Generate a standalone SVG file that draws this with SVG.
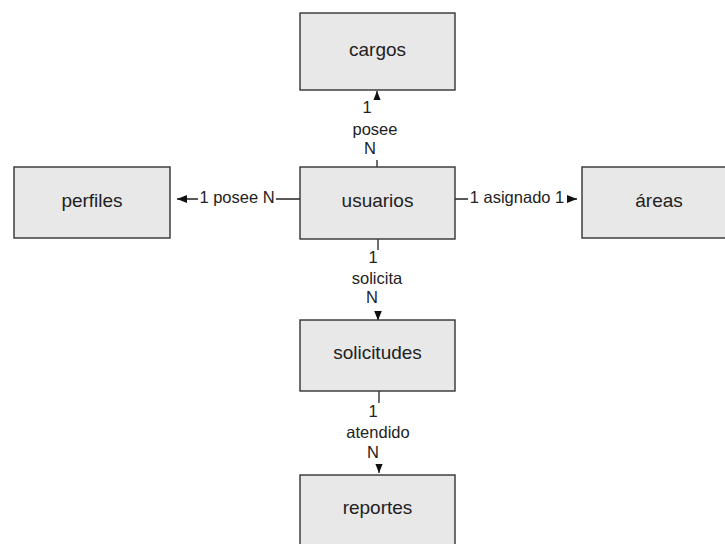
<svg xmlns="http://www.w3.org/2000/svg" width="725" height="544" viewBox="0 0 725 544">
<style>
.box{fill:#e8e8e8;stroke:#333;stroke-width:1.4}
.nt{font-family:"Liberation Sans",Arial,sans-serif;font-size:19px;fill:#222;text-anchor:middle}
.lt{font-family:"Liberation Sans",Arial,sans-serif;font-size:16.5px;fill:#222;text-anchor:middle}
.conn{fill:none;stroke:#222;stroke-width:1.3}
.bg{fill:#fff}
</style>
<defs>
<marker id="arr" markerUnits="userSpaceOnUse" markerWidth="11" markerHeight="9" refX="10" refY="4.5" orient="auto" viewBox="0 0 11 9">
<path d="M0,0.5 L10,4.5 L0,8.5 z" fill="#111"/>
</marker>
</defs>
<g id="connectors">
<path class="conn" d="M377,167 V91" marker-end="url(#arr)"/>
<path class="conn" d="M300,199 H177" marker-end="url(#arr)"/>
<path class="conn" d="M455,199 H577" marker-end="url(#arr)"/>
<path class="conn" d="M378,239 V320.5" marker-end="url(#arr)"/>
<path class="conn" d="M379,391 V473" marker-end="url(#arr)"/>
</g>
<g id="labels">
<rect class="bg" x="350" y="100" width="52" height="60"/>
<text class="lt" x="367" y="113">1</text>
<text class="lt" x="375" y="135">posee</text>
<text class="lt" x="370" y="154">N</text>
<rect class="bg" x="198" y="190" width="78" height="18"/>
<text class="lt" x="237" y="203">1 posee N</text>
<rect class="bg" x="468" y="190" width="99" height="18"/>
<text class="lt" x="517" y="203">1 asignado 1</text>
<rect class="bg" x="346" y="250" width="62" height="61"/>
<text class="lt" x="373" y="263">1</text>
<text class="lt" x="377" y="284">solicita</text>
<text class="lt" x="372" y="303">N</text>
<rect class="bg" x="344" y="403" width="70" height="61"/>
<text class="lt" x="373" y="417">1</text>
<text class="lt" x="378" y="438">atendido</text>
<text class="lt" x="373" y="458">N</text>
</g>
<g id="cargos"><rect class="box" x="300" y="13" width="155" height="77"/><text class="nt" x="377.5" y="55.5">cargos</text></g>
<g id="usuarios"><rect class="box" x="300" y="167" width="155" height="72"/><text class="nt" x="377.5" y="206.5">usuarios</text></g>
<g id="perfiles"><rect class="box" x="14" y="167" width="156" height="71"/><text class="nt" x="92" y="206.5">perfiles</text></g>
<g id="areas"><rect class="box" x="582" y="167" width="155" height="71"/><text class="nt" x="659" y="206.5">áreas</text></g>
<g id="solicitudes"><rect class="box" x="300" y="320" width="155" height="71"/><text class="nt" x="377.5" y="359">solicitudes</text></g>
<g id="reportes"><rect class="box" x="300" y="475" width="155" height="71"/><text class="nt" x="377.5" y="514">reportes</text></g>
</svg>
